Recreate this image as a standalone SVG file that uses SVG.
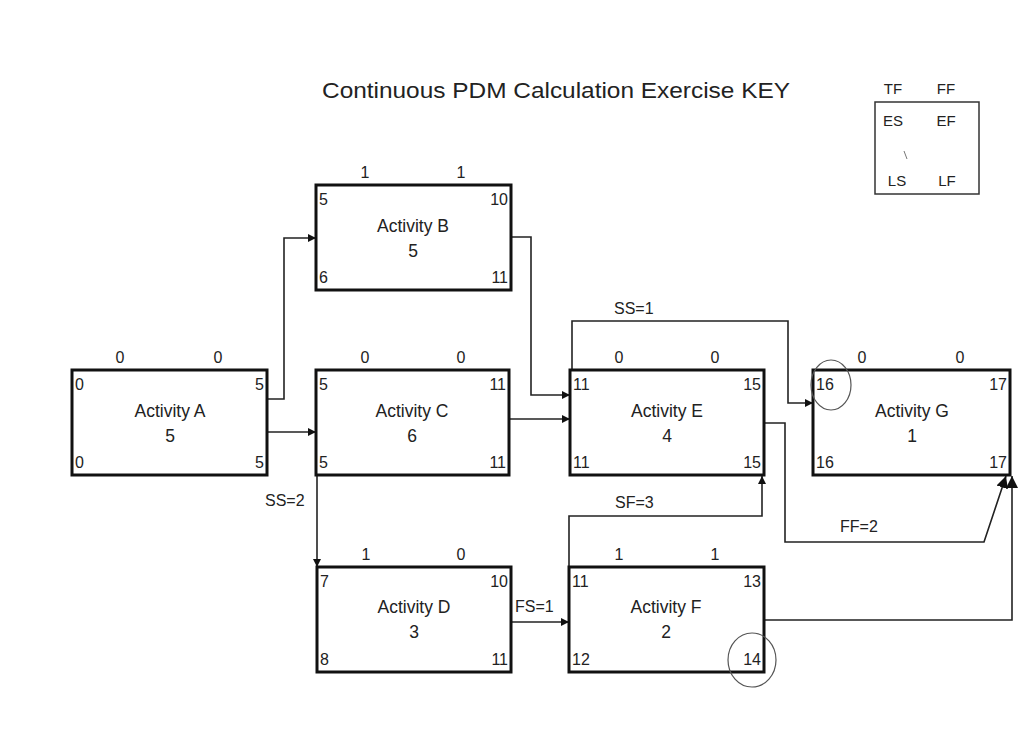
<svg xmlns="http://www.w3.org/2000/svg" width="1019" height="729" viewBox="0 0 1019 729">
<style>
  text { font-family: "Liberation Sans", Arial, sans-serif; fill: #222; }
  .box { fill: #fff; stroke: #111; stroke-width: 3; }
  .num { font-size: 16px; }
  .lbl { font-size: 17.5px; text-anchor: middle; }
  .fl { font-size: 16px; text-anchor: middle; }
  .key { font-size: 15px; text-anchor: middle; }
  .rt { text-anchor: end; }
  .con { fill: none; stroke: #222; stroke-width: 1.6; }
  .circ { fill: none; stroke: #555; stroke-width: 1.2; }
</style>
<defs>
  <marker id="ah" viewBox="0 0 10 10" refX="10" refY="5" markerWidth="10" markerHeight="8" markerUnits="userSpaceOnUse" orient="auto">
    <path d="M0,0 L10,5 L0,10 z" fill="#111"/>
  </marker>
  <marker id="ahb" viewBox="0 0 10 10" refX="10" refY="5" markerWidth="12" markerHeight="14" markerUnits="userSpaceOnUse" orient="auto">
    <path d="M0,0 L10,5 L0,10 z" fill="#111"/>
  </marker>
</defs>
<rect width="1019" height="729" fill="#fff"/>

<text x="322" y="98" font-size="22" textLength="468" lengthAdjust="spacingAndGlyphs">Continuous PDM Calculation Exercise KEY</text>

<g id="legend">
  <rect x="875" y="102" width="104" height="92" fill="none" stroke="#333" stroke-width="1.5"/>
  <text x="893" y="94" class="key">TF</text>
  <text x="946" y="94" class="key">FF</text>
  <text x="893" y="126" class="key">ES</text>
  <text x="946" y="126" class="key">EF</text>
  <text x="897" y="186" class="key">LS</text>
  <text x="947" y="186" class="key">LF</text>
  <line x1="904" y1="151" x2="907" y2="159" stroke="#777" stroke-width="1"/>
</g>

<g id="connectors">
  <!-- A to B -->
  <polyline class="con" points="267,399 284,399 284,238 316,238" marker-end="url(#ah)"/>
  <!-- A to C -->
  <polyline class="con" points="267,432 316,432" marker-end="url(#ah)"/>
  <!-- B to E -->
  <polyline class="con" points="511,237 531,237 531,395 570,395" marker-end="url(#ah)"/>
  <!-- C to E -->
  <polyline class="con" points="509,419 570,419" marker-end="url(#ah)"/>
  <!-- E to G SS=1 -->
  <polyline class="con" points="572,370 572,321 788,321 788,403 813,403" marker-end="url(#ah)"/>
  <text x="614" y="314" class="num">SS=1</text>
  <!-- C to D SS=2 -->
  <polyline class="con" points="317,475 317,567" marker-end="url(#ah)"/>
  <text x="265" y="506" class="num">SS=2</text>
  <!-- D to F FS=1 -->
  <polyline class="con" points="511,622 569,622" marker-end="url(#ah)"/>
  <text x="515" y="612" class="num">FS=1</text>
  <!-- F to E SF=3 -->
  <polyline class="con" points="569,567 569,516 762,516 762,476" marker-end="url(#ah)"/>
  <text x="615" y="508" class="num">SF=3</text>
  <!-- E to G FF=2 -->
  <polyline class="con" points="764,423 785,423 785,542 984,542 1006,476" marker-end="url(#ahb)"/>
  <text x="840" y="532" class="num">FF=2</text>
  <!-- F to G -->
  <polyline class="con" points="764,620 1012,620 1012,476" marker-end="url(#ahb)"/>
</g>

<g id="activity-a">
  <rect class="box" x="72" y="370" width="195" height="105"/>
  <text x="120" y="363" class="fl">0</text>
  <text x="218" y="363" class="fl">0</text>
  <text x="75" y="390" class="num">0</text>
  <text x="264" y="390" class="num rt">5</text>
  <text x="75" y="468" class="num">0</text>
  <text x="264" y="468" class="num rt">5</text>
  <text x="170" y="417" class="lbl">Activity A</text>
  <text x="170" y="442" class="lbl">5</text>
</g>

<g id="activity-b">
  <rect class="box" x="316" y="185" width="195" height="105"/>
  <text x="365" y="178" class="fl">1</text>
  <text x="461" y="178" class="fl">1</text>
  <text x="319" y="205" class="num">5</text>
  <text x="508" y="205" class="num rt">10</text>
  <text x="319" y="283" class="num">6</text>
  <text x="508" y="283" class="num rt">11</text>
  <text x="413" y="232" class="lbl">Activity B</text>
  <text x="413" y="257" class="lbl">5</text>
</g>

<g id="activity-c">
  <rect class="box" x="316" y="370" width="193" height="105"/>
  <text x="365" y="363" class="fl">0</text>
  <text x="461" y="363" class="fl">0</text>
  <text x="319" y="390" class="num">5</text>
  <text x="506" y="390" class="num rt">11</text>
  <text x="319" y="468" class="num">5</text>
  <text x="506" y="468" class="num rt">11</text>
  <text x="412" y="417" class="lbl">Activity C</text>
  <text x="412" y="442" class="lbl">6</text>
</g>

<g id="activity-d">
  <rect class="box" x="317" y="567" width="194" height="105"/>
  <text x="366" y="560" class="fl">1</text>
  <text x="461" y="560" class="fl">0</text>
  <text x="320" y="587" class="num">7</text>
  <text x="508" y="587" class="num rt">10</text>
  <text x="320" y="665" class="num">8</text>
  <text x="508" y="665" class="num rt">11</text>
  <text x="414" y="613" class="lbl">Activity D</text>
  <text x="414" y="638" class="lbl">3</text>
</g>

<g id="activity-e">
  <rect class="box" x="570" y="370" width="194" height="105"/>
  <text x="619" y="363" class="fl">0</text>
  <text x="715" y="363" class="fl">0</text>
  <text x="573" y="390" class="num">11</text>
  <text x="761" y="390" class="num rt">15</text>
  <text x="573" y="468" class="num">11</text>
  <text x="761" y="468" class="num rt">15</text>
  <text x="667" y="417" class="lbl">Activity E</text>
  <text x="667" y="442" class="lbl">4</text>
</g>

<g id="activity-f">
  <rect class="box" x="569" y="567" width="195" height="105"/>
  <text x="619" y="560" class="fl">1</text>
  <text x="715" y="560" class="fl">1</text>
  <text x="572" y="587" class="num">11</text>
  <text x="761" y="587" class="num rt">13</text>
  <text x="572" y="665" class="num">12</text>
  <text x="761" y="665" class="num rt">14</text>
  <text x="666" y="613" class="lbl">Activity F</text>
  <text x="666" y="638" class="lbl">2</text>
  <ellipse class="circ" cx="752" cy="660" rx="24" ry="27"/>
</g>

<g id="activity-g">
  <rect class="box" x="813" y="370" width="197" height="105"/>
  <text x="862" y="363" class="fl">0</text>
  <text x="960" y="363" class="fl">0</text>
  <text x="816" y="390" class="num">16</text>
  <text x="1007" y="390" class="num rt">17</text>
  <text x="816" y="468" class="num">16</text>
  <text x="1007" y="468" class="num rt">17</text>
  <text x="912" y="417" class="lbl">Activity G</text>
  <text x="912" y="442" class="lbl">1</text>
  <ellipse class="circ" cx="831" cy="385" rx="20" ry="25"/>
</g>
</svg>
